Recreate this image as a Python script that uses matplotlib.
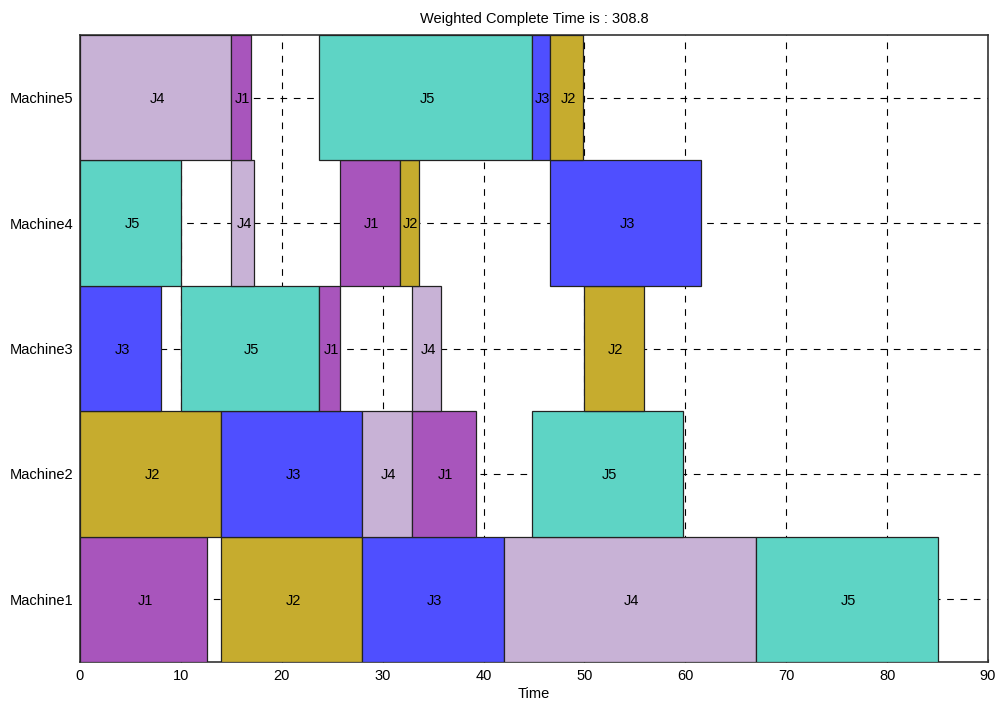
import matplotlib.pyplot as plt

plt.rcParams['font.family'] = ['Liberation Sans', 'DejaVu Sans']

machines = ['Machine1', 'Machine2', 'Machine3', 'Machine4', 'Machine5']
job_colors = {'J1': '#a855bc', 'J2': '#c6ac2e', 'J3': '#4f4fff',
              'J4': '#c8b2d6', 'J5': '#5ed4c5'}

# (job, start, end) per machine
m1 = [('J1', 0, 12.6), ('J2', 14, 28), ('J3', 28, 42), ('J4', 42, 67), ('J5', 67, 85)]
m2 = [('J2', 0, 14), ('J3', 14, 28), ('J4', 28, 32.9), ('J1', 32.9, 39.25), ('J5', 44.8, 59.8)]
m3 = [('J3', 0, 8.05), ('J5', 10, 23.7), ('J1', 23.7, 25.75), ('J4', 32.9, 35.8), ('J2', 50, 55.9)]
m4 = [('J5', 0, 10), ('J4', 15, 17.25), ('J1', 25.75, 31.7), ('J2', 31.7, 33.6), ('J3', 46.6, 61.6)]
m5 = [('J4', 0, 15), ('J1', 15, 16.9), ('J5', 23.7, 44.8), ('J3', 44.8, 46.6), ('J2', 46.6, 49.9)]
schedule = [m1, m2, m3, m4, m5]

title = 'Weighted Complete Time is : 308.8'

fig = plt.figure(figsize=(10, 7.02), dpi=100)
ax = fig.add_axes([0.08, 0.057, 0.908, 0.893])

for i, ops in enumerate(schedule):
    y = i + 1
    for job, s, e in ops:
        ax.barh(y, e - s, left=s, height=1.0, color=job_colors[job],
                edgecolor='#222222', linewidth=0.9, zorder=3)
        ax.text((s + e) / 2 + 0.15, y - 0.01, job, ha='center', va='center',
                fontsize=10.5, zorder=4)

ax.set_xlim(0, 90)
ax.set_ylim(0.5, 5.5)
ax.set_xticks(range(0, 91, 10))
ax.set_yticks(range(1, 6))
ax.set_yticklabels(machines)
ax.tick_params(direction='in', length=2, labelsize=10.5, pad=5)
for sp in ax.spines.values():
    sp.set_color('#333333')
    sp.set_linewidth(1.2)
ax.grid(True, color='black', linestyle=(0, (6, 6)), linewidth=0.8, zorder=0)
ax.set_axisbelow(True)
ax.set_xlabel('Time', fontsize=10.5, labelpad=3)
ax.set_title(title, fontsize=10.5, pad=9)

fig.savefig('out.png', dpi=100)
